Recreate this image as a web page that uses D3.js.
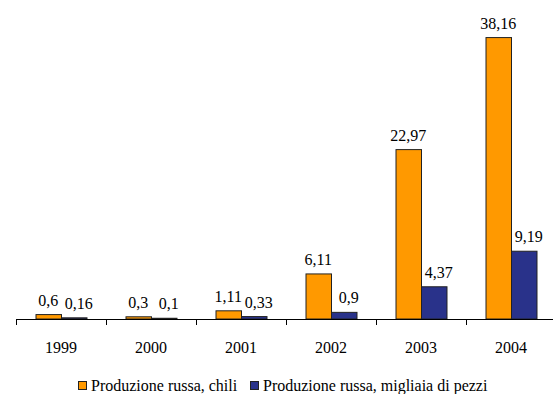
<!DOCTYPE html>
<meta charset="utf-8">
<script src="https://d3js.org/d3.v7.min.js"></script>
<style>
  body { margin: 0; background: #fff; }
  svg text { font-family: "Liberation Serif", "Times New Roman", serif; font-size: 16px; fill: #000; }
</style>
<div id="chart"></div>
<script>
// data
var years = ["1999", "2000", "2001", "2002", "2003", "2004"];
var seriesNames = ["Produzione russa, chili", "Produzione russa, migliaia di pezzi"];
var chili = [0.6, 0.3, 1.11, 6.11, 22.97, 38.16];
var pezzi = [0.16, 0.1, 0.33, 0.9, 4.37, 9.19];
var colors = ["#FF9900", "#29328A"];

var width = 553, height = 394;
var baseY = 319;

var svg = d3.select("#chart").append("svg")
  .attr("width", width)
  .attr("height", height);

// scales
var x = d3.scaleBand().domain(years).range([16, 556]).padding(0);
var x1 = d3.scaleBand().domain([0, 1]).range([0, x.bandwidth()]).paddingInner(0).paddingOuter(0.765);
var y = d3.scaleLinear().domain([0, 40]).range([baseY, 24]);

var rows = years.map(function(yr, i) {
  return { year: yr, vals: [chili[i], pezzi[i]] };
});

var groups = svg.selectAll(".yr")
  .data(rows)
  .enter().append("g")
  .attr("transform", d => "translate(" + x(d.year) + ",0)");

groups.selectAll("rect")
  .data(d => d.vals.map((v, k) => ({ k: k, v: v })))
  .enter().append("rect")
  .attr("x", d => x1(d.k) + 0.5)
  .attr("y", d => y(d.v))
  .attr("width", x1.bandwidth())
  .attr("height", d => baseY - y(d.v))
  .attr("fill", d => colors[d.k])
  .attr("stroke", "#222")
  .attr("stroke-width", 1);

// value labels (blue ones sit a little to the right)
groups.selectAll(".val")
  .data(d => d.vals.map((v, k) => ({ k: k, v: v })))
  .enter().append("text")
  .attr("class", "val")
  .attr("x", d => x1(d.k) + x1.bandwidth() / 2 + (d.k == 1 ? 5 : 0))
  .attr("y", d => y(d.v) - 9)
  .attr("text-anchor", "middle")
  .text(d => String(d.v).replace(".", ","));

// axis
svg.append("line")
  .attr("x1", 16).attr("x2", width)
  .attr("y1", baseY + 0.5).attr("y2", baseY + 0.5)
  .attr("stroke", "#000");

var tickXs = years.map(d => x(d)).concat([x.range()[1]]);
svg.selectAll(".tick")
  .data(tickXs)
  .enter().append("line")
  .attr("x1", d => Math.round(d) + 0.5).attr("x2", d => Math.round(d) + 0.5)
  .attr("y1", baseY).attr("y2", baseY + 6)
  .attr("stroke", "#000");

svg.selectAll(".yl")
  .data(years)
  .enter().append("text")
  .attr("x", d => x(d) + x.bandwidth() / 2)
  .attr("y", 353)
  .attr("text-anchor", "middle")
  .text(d => d);

// legend
var legX = [78, 250];
var leg = svg.selectAll(".leg")
  .data(seriesNames)
  .enter().append("g")
  .attr("transform", (d, i) => "translate(" + legX[i] + ",381)");
leg.append("rect")
  .attr("x", 0.5).attr("y", 0.5)
  .attr("width", 8).attr("height", 8)
  .attr("fill", (d, i) => colors[i])
  .attr("stroke", "#222");
leg.append("text")
  .attr("x", 13).attr("y", 10)
  .text(d => d);
</script>
